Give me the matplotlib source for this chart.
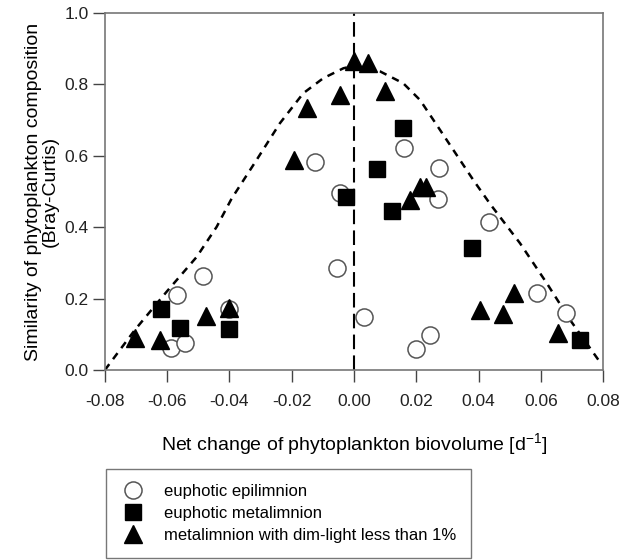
import matplotlib.pyplot as plt

plt.rcParams["font.family"] = ["Liberation Sans", "DejaVu Sans"]
plt.rcParams["mathtext.fontset"] = "custom"
plt.rcParams["mathtext.rm"] = "Liberation Sans"

# euphotic epilimnion (open circles)
epi_x = [-0.0588, -0.0543, -0.0567, -0.0484, -0.040, -0.0125, -0.0054, -0.0045,
         0.0032, 0.020, 0.0244, 0.0162, 0.0274, 0.0268, 0.0433, 0.0587, 0.068]
epi_y = [0.061, 0.076, 0.210, 0.263, 0.170, 0.582, 0.287, 0.497,
         0.148, 0.058, 0.098, 0.621, 0.567, 0.478, 0.415, 0.215, 0.159]

# euphotic metalimnion (filled squares)
meta_x = [-0.0618, -0.0559, -0.040, -0.0025, 0.0073, 0.0123, 0.0158, 0.0378, 0.0726]
meta_y = [0.170, 0.117, 0.114, 0.484, 0.563, 0.446, 0.677, 0.341, 0.084]

# metalimnion with dim-light < 1% (filled triangles)
dim_x = [-0.0704, -0.0623, -0.0476, -0.040, -0.0193, -0.0152, -0.0045, 0.0, 0.0046,
         0.010, 0.018, 0.0212, 0.0231, 0.0405, 0.0478, 0.0515, 0.0656]
dim_y = [0.089, 0.084, 0.151, 0.173, 0.588, 0.733, 0.770, 0.864, 0.861,
         0.780, 0.476, 0.513, 0.512, 0.168, 0.156, 0.217, 0.105]

# dashed envelope curve
env_x = [-0.080, -0.0704, -0.0602, -0.0505, -0.0441, -0.0393, -0.0313, -0.0238,
         -0.0163, -0.0099, -0.0034, 0.0, 0.0084, 0.0158, 0.0212, 0.0255, 0.0319,
         0.0383, 0.0437, 0.0533, 0.0619, 0.0694, 0.0785]
env_y = [0.0, 0.112, 0.219, 0.317, 0.401, 0.480, 0.588, 0.691,
         0.775, 0.817, 0.845, 0.852, 0.836, 0.803, 0.756, 0.700, 0.616,
         0.532, 0.465, 0.355, 0.243, 0.140, 0.028]

fig = plt.figure(figsize=(6.2, 5.6), dpi=100)
ax = fig.add_axes([0.169, 0.339, 0.804, 0.638])

ax.plot(env_x, env_y, color="black", linestyle=(0, (3, 2.5)), linewidth=1.8, zorder=1)
ax.axvline(0, color="black", linestyle=(0, (7, 3)), linewidth=1.5, zorder=1)

ax.plot(epi_x, epi_y, linestyle="none", marker="o", markersize=12.3,
        markerfacecolor="white", markeredgecolor="#555555", markeredgewidth=1.1,
        label="euphotic epilimnion", zorder=2)
ax.plot(meta_x, meta_y, linestyle="none", marker="s", markersize=11.3,
        color="black", label="euphotic metalimnion", zorder=3)
ax.plot(dim_x, dim_y, linestyle="none", marker="^", markersize=13.5,
        color="black", label="metalimnion with dim-light less than 1%", zorder=3)

ax.set_xlim(-0.08, 0.08)
ax.set_ylim(0.0, 1.0)
ax.set_xticks([-0.08, -0.06, -0.04, -0.02, 0.0, 0.02, 0.04, 0.06, 0.08])
ax.set_xticklabels(["-0.08", "-0.06", "-0.04", "-0.02", "0.00",
                    "0.02", "0.04", "0.06", "0.08"])
ax.set_yticks([0.0, 0.2, 0.4, 0.6, 0.8, 1.0])
ax.set_yticklabels(["0.0", "0.2", "0.4", "0.6", "0.8", "1.0"])
ax.tick_params(direction="out", length=8.5, width=1, colors="#444444",
               labelcolor="#222222", labelsize=12.5)
ax.tick_params(axis="x", pad=9)
ax.tick_params(axis="y", pad=3)
for s in ax.spines.values():
    s.set_color("#777777")
    s.set_linewidth(1.2)

ax.set_xlabel("Net change of phytoplankton biovolume [d$^{\\mathregular{-1}}$]",
              fontsize=14, labelpad=16)
ax.set_ylabel("Similarity of phytoplankton composition\n(Bray-Curtis)",
              fontsize=14, labelpad=4, linespacing=1.0)

fig.legend(loc="upper left", bbox_to_anchor=(106 / 620, 1 - 469 / 560),
           frameon=True, fancybox=False, edgecolor="#555555", fontsize=12,
           handletextpad=1.1, borderpad=0.9, labelspacing=0.42, handlelength=1.45,
           borderaxespad=0)

fig.savefig("out.png", dpi=100)
